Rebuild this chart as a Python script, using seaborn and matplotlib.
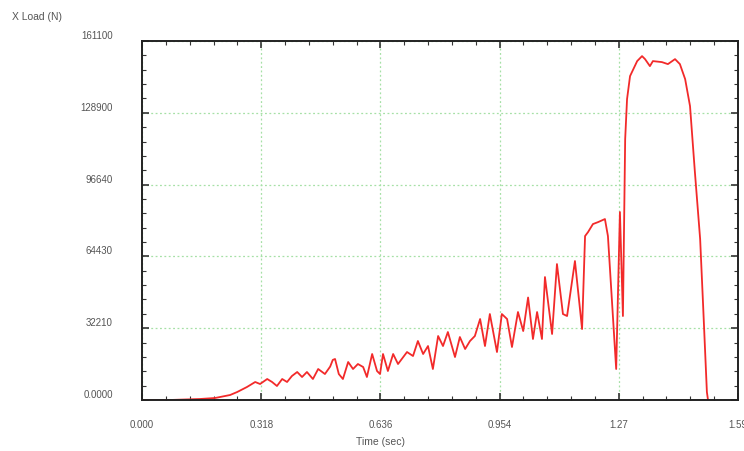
import numpy as np
import pandas as pd
import matplotlib
matplotlib.use("Agg")
import matplotlib.pyplot as plt
import matplotlib.transforms as mtransforms
from matplotlib.ticker import AutoMinorLocator
import seaborn as sns

# X load trace (time in sec, load in N)
time_sec = [0.000, 0.075, 0.155, 0.195, 0.235, 0.254, 0.280, 0.302, 0.315, 0.334,
            0.347, 0.360, 0.374, 0.387, 0.400, 0.414, 0.427, 0.440, 0.456, 0.470,
            0.488, 0.502, 0.509, 0.515, 0.525, 0.536, 0.550, 0.563, 0.576, 0.590,
            0.600, 0.614, 0.627, 0.635, 0.643, 0.656, 0.670, 0.683, 0.707, 0.723,
            0.736, 0.750, 0.763, 0.776, 0.790, 0.803, 0.816, 0.835, 0.848, 0.862,
            0.875, 0.888, 0.902, 0.915, 0.928, 0.947, 0.960, 0.974, 0.987, 1.003,
            1.017, 1.030, 1.043, 1.054, 1.067, 1.075, 1.094, 1.107, 1.123, 1.134,
            1.155, 1.174, 1.182, 1.190, 1.203, 1.217, 1.235, 1.243, 1.265, 1.275,
            1.283, 1.289, 1.294, 1.302, 1.321, 1.334, 1.342, 1.355, 1.363, 1.387,
            1.403, 1.422, 1.435, 1.449, 1.462, 1.475, 1.489, 1.497, 1.507, 1.510]
x_load = [0, 0, 450, 900, 2240, 3590, 5830, 8080, 7180, 9420,
          8080, 6280, 9420, 8080, 10770, 12560, 10320, 12560, 9420, 13910,
          11660, 15000, 18000, 18400, 11660, 9420, 17050, 13910, 16150, 14800,
          10320, 20640, 13010, 11660, 20640, 13010, 20640, 16150, 21530, 19740,
          26470, 20640, 24220, 13910, 28710, 24220, 30500, 19290, 28260, 22880,
          26470, 28710, 36340, 24220, 38580, 21530, 38580, 36340, 23780, 39480,
          30950, 46000, 27370, 39480, 27370, 55180, 29610, 61010, 38580, 37680,
          62360, 31850, 73570, 75370, 78950, 79850, 81200, 73570, 13910, 84340,
          37680, 117090, 135030, 145350, 152080, 154320, 152970, 149830, 152080, 151630,
          150730, 152970, 150730, 144000, 131890, 102280, 72230, 42170, 3590, 0]

x_tick_labels = ["0.000", "0.318", "0.636", "0.954", "1.27", "1.59"]
y_tick_labels = ["0.0000", "32210", "64430", "96640", "128900", "161100"]

df = pd.DataFrame({"time": time_sec, "load": x_load})

sns.set_style("ticks")
plt.rcParams["font.family"] = ["Liberation Sans", "DejaVu Sans"]

fig = plt.figure(figsize=(7.44, 4.52), dpi=100)
ax = fig.add_axes([142 / 744, 1 - 401 / 452, 596 / 744, 359 / 452])

sns.lineplot(data=df, x="time", y="load", ax=ax, sort=False, estimator=None,
             color="#f22a2a", linewidth=1.3)

ax.set_xlim(0, 1.59)
ax.set_ylim(0, 161100)
ax.set_xticks(np.linspace(0, 1.59, 6))
ax.set_xticklabels(x_tick_labels)
ax.set_yticks(np.linspace(0, 161100, 6))
ax.set_yticklabels(y_tick_labels)
ax.xaxis.set_minor_locator(AutoMinorLocator(5))
ax.yaxis.set_minor_locator(AutoMinorLocator(5))

ax.grid(True, which="major", color="#a6e0a6", linestyle=(0, (1.5, 2)), linewidth=0.9)
ax.tick_params(which="both", direction="in", top=True, right=True, color="#333333",
               labelsize=7, labelcolor="#555555")
ax.tick_params(which="major", length=5, width=1.2)
ax.tick_params(which="minor", length=3, width=0.8)
ax.tick_params(axis="y", which="major", pad=21)
ax.tick_params(axis="x", which="major", pad=14)
for sp in ax.spines.values():
    sp.set_visible(True)
    sp.set_color("#222222")
    sp.set_linewidth(1.4)

# y labels sit a little above their ticks in the original
shift = mtransforms.ScaledTranslation(0, 5 / 72, fig.dpi_scale_trans)
for lbl in ax.get_yticklabels():
    lbl.set_transform(lbl.get_transform() + shift)

ax.set_xlabel("Time (sec)", fontsize=7.5, color="#555555")
ax.xaxis.set_label_coords(0.40, -0.1)
ax.set_ylabel("")
fig.text(12 / 744, 1 - 17 / 452, "X Load (N)", fontsize=7.5, color="#555555",
         ha="left", va="center")

fig.savefig("out.png", dpi=100)
